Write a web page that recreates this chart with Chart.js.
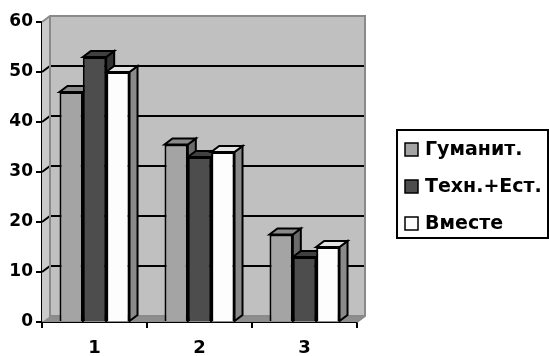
<!DOCTYPE html>
<html>
<head>
<meta charset="utf-8">
<script src="https://cdn.jsdelivr.net/npm/chart.js@4"></script>
<style>
  html, body { margin: 0; padding: 0; background: #ffffff; }
  #wrap { width: 549px; height: 356px; position: relative; }
</style>
</head>
<body>
<div id="wrap"><canvas id="chart"></canvas></div>
<script>
// Categories and series
const categories = ['1', '2', '3'];
const seriesNames = ['Гуманит.', 'Техн.+Ест.', 'Вместе'];
const gumanit = [46, 35.5, 17.5];
const tehnEst = [53, 33, 13];
const vmeste = [50, 34, 15];
const yMin = 0, yMax = 60, yStep = 10;

// Face colours: front, top, side
const palette = [
  { front: '#a4a4a4', top: '#8a8a8a', side: '#6a6a6a' },
  { front: '#4d4d4d', top: '#404040', side: '#323232' },
  { front: '#fdfdfd', top: '#e4e4e4', side: '#8a8a8a' }
];

const DX = 8, DY = 6;           // depth offset of the 3D box
const FONT = '"DejaVu Sans", sans-serif';

function poly(ctx, pts, fill, stroke, lw) {
  ctx.beginPath();
  ctx.moveTo(pts[0][0], pts[0][1]);
  for (let i = 1; i < pts.length; i++) ctx.lineTo(pts[i][0], pts[i][1]);
  ctx.closePath();
  if (fill) { ctx.fillStyle = fill; ctx.fill(); }
  if (stroke) { ctx.strokeStyle = stroke; ctx.lineWidth = lw; ctx.stroke(); }
}

// Walls, floor, gridlines and the top/side faces of every bar
const depthPlugin = {
  id: 'depth3d',
  beforeDatasetsDraw(chart) {
    const { ctx, chartArea: a, scales: { y } } = chart;
    ctx.save();
    // back wall
    poly(ctx, [[a.left + DX, a.top - DY], [a.right + DX, a.top - DY],
               [a.right + DX, a.bottom - DY], [a.left + DX, a.bottom - DY]], '#c0c0c0', null, 0);
    // side wall
    poly(ctx, [[a.left, a.top], [a.left + DX, a.top - DY],
               [a.left + DX, a.bottom - DY], [a.left, a.bottom]], '#cacaca', null, 0);
    // floor
    poly(ctx, [[a.left, a.bottom], [a.left + DX, a.bottom - DY],
               [a.right + DX, a.bottom - DY], [a.right, a.bottom]], '#8e8e8e', null, 0);
    // wall gridlines
    ctx.strokeStyle = '#000000';
    ctx.lineWidth = 2;
    for (let v = yMin + yStep; v < yMax; v += yStep) {
      const py = y.getPixelForValue(v);
      ctx.beginPath();
      ctx.moveTo(a.left, py);
      ctx.lineTo(a.left + DX, py - DY);
      ctx.lineTo(a.right + DX, py - DY);
      ctx.stroke();
    }
    // wall edges
    ctx.strokeStyle = '#8a8a8a';
    ctx.lineWidth = 2;
    ctx.beginPath();
    ctx.moveTo(a.left, a.top);
    ctx.lineTo(a.left + DX, a.top - DY);
    ctx.lineTo(a.right + DX, a.top - DY);
    ctx.lineTo(a.right + DX, a.bottom - DY);
    ctx.lineTo(a.right, a.bottom);
    ctx.moveTo(a.left + DX, a.top - DY);
    ctx.lineTo(a.left + DX, a.bottom - DY);
    ctx.lineTo(a.right + DX, a.bottom - DY);
    ctx.stroke();
    // bar top and side faces, drawn left to right within each group
    const n = chart.data.labels.length;
    for (let c = 0; c < n; c++) {
      chart.data.datasets.forEach((ds, i) => {
        const bar = chart.getDatasetMeta(i).data[c];
        const p = bar.getProps(['x', 'y', 'base', 'width'], true);
        const l = p.x - p.width / 2, r = p.x + p.width / 2, t = p.y, b = p.base;
        const col = palette[i];
        ctx.lineJoin = 'miter';
        poly(ctx, [[r, t], [r + DX, t - DY], [r + DX, b - DY], [r, b]], col.side, '#000000', 2);
        poly(ctx, [[l, t], [l + DX, t - DY], [r + DX, t - DY], [r, t]], col.top, '#000000', 2);
      });
    }
    ctx.restore();
  },
  afterDraw(chart) {
    // legend box
    const { ctx } = chart;
    ctx.save();
    ctx.strokeStyle = '#000000';
    ctx.lineWidth = 2;
    ctx.strokeRect(397, 130, 151, 108);
    const rows = [149, 186, 223];
    ctx.font = 'bold 19px ' + FONT;
    ctx.textBaseline = 'middle';
    ctx.textAlign = 'left';
    chart.data.datasets.forEach((ds, i) => {
      const cy = rows[i];
      ctx.fillStyle = ds.backgroundColor;
      ctx.fillRect(405, cy - 6, 13, 13);
      ctx.lineWidth = 1.5;
      ctx.strokeRect(405, cy - 6, 13, 13);
      ctx.fillStyle = '#000000';
      ctx.fillText(ds.label, 425, cy + 1);
    });
    ctx.restore();
  }
};

const seriesValues = [gumanit, tehnEst, vmeste];

new Chart(document.getElementById('chart'), {
  type: 'bar',
  data: {
    labels: categories,
    datasets: seriesValues.map((vals, i) => ({
      label: seriesNames[i],
      data: vals,
      backgroundColor: palette[i].front,
      borderColor: '#000000',
      borderWidth: 2,
      categoryPercentage: 0.667,
      barPercentage: 1.0
    }))
  },
  options: {
    responsive: true,
    maintainAspectRatio: false,
    animation: false,
    layout: { padding: { top: 22, right: 192, bottom: 0, left: 0 } },
    plugins: { legend: { display: false }, tooltip: { enabled: false } },
    scales: {
      x: {
        offset: true,
        grid: { offset: true, drawOnChartArea: false, tickLength: 6, color: '#000000', lineWidth: 2 },
        border: { display: true, color: '#000000', width: 2 },
        ticks: { color: '#000000', font: { family: FONT, size: 18, weight: 'bold' }, padding: 10 },
        afterFit(scale) { scale.height = 34; }
      },
      y: {
        min: yMin, max: yMax,
        grid: { drawOnChartArea: false, tickLength: 6, color: '#000000', lineWidth: 2 },
        border: { display: true, color: '#000000', width: 2 },
        ticks: { stepSize: yStep, color: '#000000', font: { family: FONT, size: 17, weight: 'bold' }, padding: 3 },
        afterFit(scale) { scale.width = 42; }
      }
    }
  },
  plugins: [depthPlugin]
});
</script>
</body>
</html>
